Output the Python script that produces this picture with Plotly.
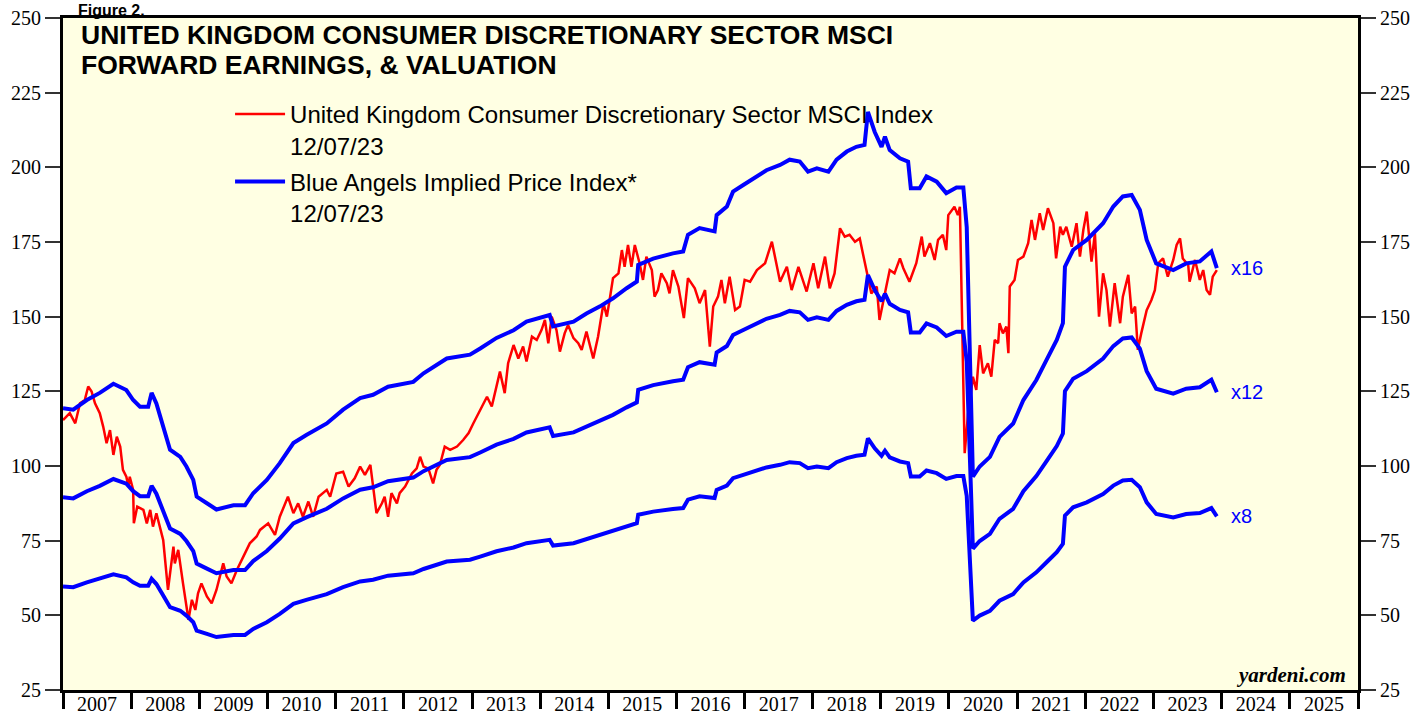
import pandas as pd
import plotly.graph_objects as go

# ---------------- data (decimal years) ----------------
eps_years = [2007.00, 2007.15, 2007.35, 2007.54, 2007.74, 2007.93, 2008.03, 2008.13, 2008.25, 2008.30,
             2008.37, 2008.47, 2008.57, 2008.72, 2008.81, 2008.91, 2008.96, 2009.11, 2009.25, 2009.50,
             2009.67, 2009.79, 2009.99, 2010.18, 2010.38, 2010.57, 2010.87, 2011.11, 2011.36, 2011.55,
             2011.77, 2012.14, 2012.29, 2012.63, 2012.97, 2013.12, 2013.36, 2013.61, 2013.80, 2014.14,
             2014.19, 2014.49, 2014.68, 2014.88, 2015.07, 2015.27, 2015.42, 2015.44, 2015.66, 2015.95,
             2016.10, 2016.17, 2016.34, 2016.56, 2016.59, 2016.74, 2016.83, 2016.98, 2017.18, 2017.32,
             2017.52, 2017.66, 2017.81, 2017.93, 2018.06, 2018.23, 2018.35, 2018.50, 2018.64, 2018.76,
             2018.81, 2018.91, 2019.01, 2019.06, 2019.13, 2019.28, 2019.40, 2019.44, 2019.57, 2019.67,
             2019.82, 2019.96, 2020.11, 2020.21, 2020.26, 2020.35, 2020.45, 2020.60, 2020.74, 2020.94,
             2021.09, 2021.28, 2021.43, 2021.58, 2021.67, 2021.70, 2021.82, 2022.02, 2022.26, 2022.41,
             2022.55, 2022.68, 2022.80, 2022.90, 2023.04, 2023.29, 2023.48, 2023.68, 2023.85, 2023.93]
fwd_eps = [7.46, 7.43, 7.63, 7.78, 7.97, 7.84, 7.63, 7.49, 7.49, 7.78,
           7.56, 7.08, 6.59, 6.44, 6.24, 5.96, 5.61, 5.47, 5.34, 5.43,
           5.43, 5.68, 5.96, 6.31, 6.73, 6.90, 7.14, 7.43, 7.67, 7.74,
           7.91, 8.01, 8.19, 8.50, 8.58, 8.71, 8.93, 9.09, 9.27, 9.41,
           9.17, 9.27, 9.44, 9.59, 9.76, 9.97, 10.11, 10.46, 10.59, 10.70,
           10.74, 11.09, 11.23, 11.16, 11.50, 11.68, 11.99, 12.13, 12.31, 12.44,
           12.55, 12.66, 12.62, 12.41, 12.48, 12.41, 12.66, 12.83, 12.93, 12.97,
           13.66, 13.24, 12.93, 13.14, 12.86, 12.69, 12.62, 12.06, 12.06, 12.31,
           12.20, 11.96, 12.08, 12.08, 11.25, 6.03, 6.24, 6.44, 6.86, 7.14,
           7.63, 8.05, 8.47, 8.89, 9.24, 10.42, 10.77, 10.98, 11.33, 11.68,
           11.89, 11.92, 11.61, 10.98, 10.49, 10.35, 10.49, 10.53, 10.74, 10.39]

price_years = [2007.00, 2007.10, 2007.18, 2007.25, 2007.32, 2007.37, 2007.42, 2007.47, 2007.54, 2007.59,
               2007.64, 2007.69, 2007.74, 2007.79, 2007.84, 2007.88, 2007.93, 2007.96, 2007.98, 2008.03,
               2008.04, 2008.09, 2008.18, 2008.23, 2008.28, 2008.32, 2008.37, 2008.42, 2008.47, 2008.54,
               2008.62, 2008.64, 2008.69, 2008.76, 2008.84, 2008.89, 2008.94, 2008.98, 2009.03, 2009.11,
               2009.18, 2009.25, 2009.35, 2009.40, 2009.47, 2009.55, 2009.64, 2009.74, 2009.84, 2009.89,
               2010.01, 2010.11, 2010.18, 2010.30, 2010.38, 2010.45, 2010.52, 2010.60, 2010.67, 2010.75,
               2010.87, 2010.92, 2011.01, 2011.11, 2011.19, 2011.28, 2011.36, 2011.43, 2011.51, 2011.60,
               2011.68, 2011.72, 2011.77, 2011.82, 2011.90, 2011.94, 2012.02, 2012.12, 2012.19, 2012.24,
               2012.29, 2012.36, 2012.43, 2012.48, 2012.53, 2012.60, 2012.68, 2012.78, 2012.87, 2012.95,
               2013.02, 2013.12, 2013.22, 2013.29, 2013.36, 2013.41, 2013.48, 2013.53, 2013.61, 2013.68,
               2013.75, 2013.80, 2013.88, 2013.95, 2014.02, 2014.07, 2014.12, 2014.17, 2014.24, 2014.29,
               2014.36, 2014.41, 2014.49, 2014.56, 2014.61, 2014.68, 2014.78, 2014.85, 2014.93, 2014.98,
               2015.02, 2015.07, 2015.15, 2015.20, 2015.24, 2015.29, 2015.34, 2015.39, 2015.46, 2015.51,
               2015.56, 2015.64, 2015.68, 2015.73, 2015.78, 2015.86, 2015.90, 2015.95, 2016.03, 2016.11,
               2016.17, 2016.27, 2016.34, 2016.42, 2016.49, 2016.54, 2016.61, 2016.66, 2016.71, 2016.78,
               2016.86, 2016.93, 2017.00, 2017.08, 2017.18, 2017.30, 2017.40, 2017.52, 2017.62, 2017.69,
               2017.79, 2017.91, 2018.01, 2018.08, 2018.18, 2018.25, 2018.32, 2018.40, 2018.47, 2018.54,
               2018.62, 2018.69, 2018.74, 2018.79, 2018.86, 2018.94, 2018.98, 2019.08, 2019.13, 2019.20,
               2019.28, 2019.33, 2019.42, 2019.52, 2019.60, 2019.64, 2019.72, 2019.79, 2019.84, 2019.91,
               2019.96, 2019.99, 2020.04, 2020.08, 2020.13, 2020.16, 2020.23, 2020.28, 2020.31, 2020.35,
               2020.40, 2020.45, 2020.50, 2020.57, 2020.62, 2020.67, 2020.72, 2020.74, 2020.79, 2020.84,
               2020.87, 2020.89, 2020.96, 2021.01, 2021.09, 2021.16, 2021.21, 2021.26, 2021.33, 2021.38,
               2021.45, 2021.53, 2021.57, 2021.63, 2021.67, 2021.72, 2021.80, 2021.87, 2021.92, 2021.97,
               2022.02, 2022.09, 2022.14, 2022.20, 2022.26, 2022.31, 2022.36, 2022.43, 2022.51, 2022.55,
               2022.63, 2022.68, 2022.73, 2022.77, 2022.82, 2022.90, 2022.97, 2023.02, 2023.07, 2023.14,
               2023.21, 2023.29, 2023.34, 2023.39, 2023.43, 2023.51, 2023.53, 2023.61, 2023.68, 2023.73,
               2023.78, 2023.83, 2023.87, 2023.93]
price_index = [115.4, 117.7, 114.3, 121.0, 122.1, 126.6, 124.9, 121.0, 117.7, 113.2,
               107.6, 112.0, 103.7, 109.8, 106.5, 98.7, 96.4, 93.1, 96.4, 92.0,
               80.8, 86.4, 85.3, 80.8, 85.3, 79.7, 84.2, 79.7, 75.2, 58.5,
               73.0, 67.4, 71.9, 60.7, 48.5, 55.2, 51.8, 57.4, 60.7, 56.3,
               54.0, 58.5, 67.4, 63.0, 60.7, 65.2, 69.7, 74.1, 76.4, 78.6,
               80.8, 76.9, 83.0, 89.7, 84.2, 87.5, 83.0, 88.1, 83.0, 89.7,
               92.0, 89.7, 97.5, 98.1, 93.1, 95.9, 99.8, 97.0, 100.4, 84.2,
               87.5, 89.7, 83.0, 90.9, 87.5, 90.9, 93.1, 97.5, 99.2, 103.1,
               99.8, 99.2, 94.2, 98.7, 100.4, 106.5, 105.4, 106.5, 108.7, 111.0,
               114.3, 118.8, 123.2, 119.9, 126.6, 131.6, 124.4, 134.4, 140.5, 136.0,
               140.0, 135.0, 143.3, 142.2, 145.5, 148.9, 141.1, 150.0, 145.5, 138.3,
               144.4, 147.2, 142.8, 141.1, 138.9, 145.0, 136.0, 143.3, 154.5, 150.0,
               155.6, 162.9, 164.5, 172.3, 166.7, 174.0, 166.7, 174.0, 167.9, 162.3,
               170.1, 165.6, 156.7, 158.9, 164.5, 161.2, 157.8, 165.6, 160.1, 149.5,
               162.9, 159.5, 154.5, 158.9, 140.0, 153.4, 156.7, 162.3, 154.5, 163.4,
               152.2, 153.4, 162.3, 161.7, 165.6, 167.9, 175.1, 161.7, 166.7, 158.9,
               166.7, 158.4, 167.9, 159.5, 170.1, 159.5, 164.5, 179.6, 176.8, 177.4,
               175.1, 176.2, 170.7, 165.6, 157.8, 160.1, 148.9, 160.1, 165.6, 164.5,
               169.5, 166.2, 161.7, 167.9, 176.8, 170.1, 174.6, 169.0, 175.7, 177.4,
               172.3, 184.0, 185.7, 186.8, 184.0, 186.8, 104.3, 117.7, 122.1, 129.9,
               125.5, 140.5, 131.0, 134.4, 129.9, 142.2, 141.1, 147.8, 144.4, 146.7,
               137.8, 160.1, 162.3, 169.0, 170.1, 174.6, 182.4, 175.7, 184.6, 179.0,
               186.3, 181.3, 169.5, 180.1, 177.4, 180.1, 173.4, 181.3, 170.1, 179.0,
               185.2, 168.4, 177.9, 150.0, 164.5, 158.9, 146.7, 161.2, 147.8, 156.7,
               164.0, 151.1, 153.4, 138.9, 144.4, 152.2, 155.6, 158.9, 167.9, 169.5,
               163.4, 169.0, 174.0, 176.2, 169.5, 167.3, 161.7, 169.0, 162.3, 165.6,
               158.9, 157.3, 163.4, 165.6]

multiples = [16, 12, 8]
multiple_labels = ["x16", "x12", "x8"]
y_ticks = [25, 50, 75, 100, 125, 150, 175, 200, 225, 250]

title_line1 = "UNITED KINGDOM CONSUMER DISCRETIONARY SECTOR MSCI"
title_line2 = "FORWARD EARNINGS, & VALUATION"
red_name = "United Kingdom Consumer Discretionary Sector MSCI Index<br>12/07/23"
blue_name = "Blue Angels Implied Price Index*<br>12/07/23"


def to_dates(years):
    out = []
    for y in years:
        base = int(y)
        start = pd.Timestamp(base, 1, 1)
        end = pd.Timestamp(base + 1, 1, 1)
        out.append(start + (end - start) * (y - base))
    return out


eps_dates = to_dates(eps_years)
price_dates = to_dates(price_years)

RED = "#FF0000"
BLUE = "#0000FF"
SANS = "Liberation Sans, Arial"
SERIF = "Liberation Serif, Times New Roman"

fig = go.Figure()

fig.add_trace(go.Scatter(x=price_dates, y=price_index, mode="lines", name=red_name,
                         line=dict(color=RED, width=2.5), legendgroup="a"))

for i, m in enumerate(multiples):
    fig.add_trace(go.Scatter(
        x=eps_dates, y=[e * m for e in fwd_eps], mode="lines",
        name=blue_name, showlegend=(i == 0), legendgroup="b",
        line=dict(color=BLUE, width=4),
        yaxis="y2" if i == 2 else "y"))
    fig.add_annotation(x=eps_dates[-1], y=fwd_eps[-1] * m, text=multiple_labels[i],
                       xanchor="left", yanchor="middle", xshift=12, showarrow=False,
                       font=dict(family=SANS, size=20, color=BLUE))

axis_font = dict(family=SERIF, size=20, color="black")

fig.update_layout(
    width=1414, height=719,
    margin=dict(l=63, r=56, t=18, b=29, autoexpand=False),
    paper_bgcolor="white",
    plot_bgcolor="#FFFFE3",
    showlegend=True,
    legend=dict(x=0.129, y=0.890, xanchor="left", yanchor="top",
                bgcolor="rgba(0,0,0,0)", valign="top", tracegroupgap=2,
                itemwidth=50,
                font=dict(family=SANS, size=24, color="black")),
    xaxis=dict(type="date", range=["2007-01-01", "2026-01-01"], automargin=False,
               dtick="M12", tick0="2007-01-01", tickformat="%Y", ticklabelmode="period",
               ticks="outside", ticklen=16, tickwidth=3, tickcolor="black",
               ticklabelstandoff=-22,
               showgrid=False, zeroline=False,
               showline=True, linecolor="black", linewidth=3, mirror=True,
               tickfont=axis_font),
    yaxis=dict(range=[25, 250], tickvals=y_ticks, ticks="outside", ticklen=15, automargin=False,
               tickwidth=2, tickcolor="#333333", showgrid=False, zeroline=False,
               showline=True, linecolor="black", linewidth=3, mirror=True,
               tickfont=axis_font),
    yaxis2=dict(range=[25, 250], tickvals=y_ticks, overlaying="y", side="right", automargin=False,
                ticks="outside", ticklen=15, tickwidth=2, tickcolor="#333333",
                showgrid=False, zeroline=False, showline=True, linecolor="black",
                linewidth=3, tickfont=axis_font),
)

# title lines (pixel centres ~35 and ~65 inside a 672px-tall plot area starting at 18)
fig.add_annotation(xref="paper", yref="paper", x=0.0125, y=1 - (35 - 18) / 672,
                   xanchor="left", yanchor="middle",
                   text="<b>" + title_line1 + "</b>", showarrow=False,
                   font=dict(family=SANS, size=26.5, color="black"))
fig.add_annotation(xref="paper", yref="paper", x=0.0125, y=1 - (65 - 18) / 672,
                   xanchor="left", yanchor="middle",
                   text="<b>" + title_line2 + "</b>", showarrow=False,
                   font=dict(family=SANS, size=26.5, color="black"))
fig.add_annotation(xref="paper", yref="paper", x=0.010, y=1 + 18 / 672,
                   xanchor="left", yanchor="top",
                   text="<b>Figure 2.</b>", showarrow=False,
                   font=dict(family=SANS, size=16, color="black"))
fig.add_annotation(xref="paper", yref="paper", x=0.992, y=0.022, xanchor="right", yanchor="middle",
                   text="<b><i>yardeni.com</i></b>", showarrow=False,
                   font=dict(family=SERIF, size=21, color="black"))

# remove the default 8px page margin so the figure fills the window exactly
fig.write_html("out.html", config={"displayModeBar": False},
               post_script="document.body.style.margin='0px';")
